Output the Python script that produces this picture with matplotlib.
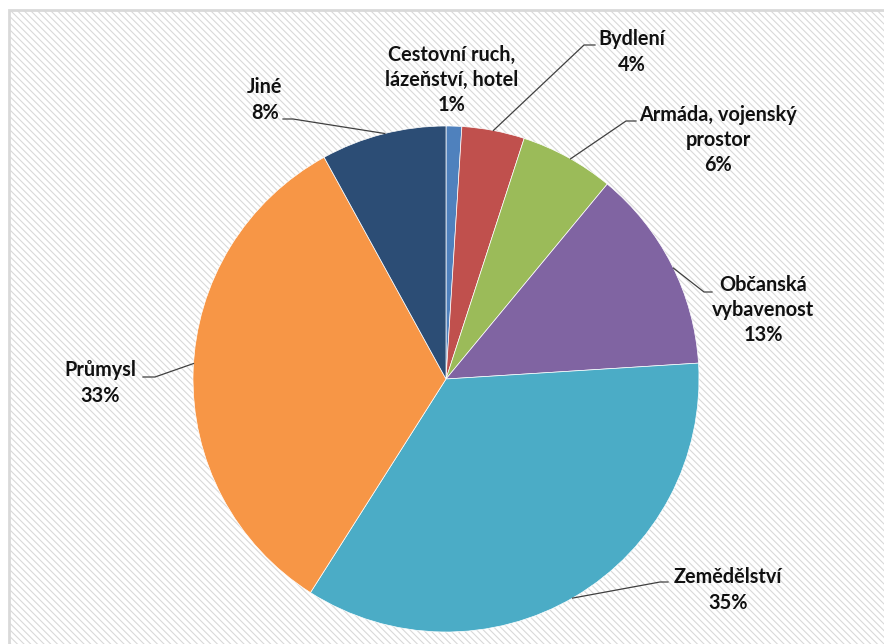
import matplotlib
matplotlib.use("Agg")
import matplotlib.pyplot as plt
import numpy as np
from matplotlib.patches import Rectangle

categories = ["Cestovní ruch,\nlázeňství, hotel", "Bydlení", "Armáda, vojenský\nprostor",
              "Občanská\nvybavenost", "Zemědělství", "Průmysl", "Jiné"]
values = [1, 4, 6, 13, 35, 33, 8]
colors = ["#4F81BD", "#C0504D", "#9BBB59", "#8064A2", "#4BACC6", "#F79646", "#2C4D75"]

# layout (pixel coordinates, y measured from top)
W, H = 884, 644
cx, cy, R = 446, 379, 253
label_pos = [(452, 80), (632, 52), (718, 140), (763, 310), (728, 590), (100, 383), (265, 100)]
# leader: (text-side x, y, elbow x), anchor angle on pie edge (deg)
leaders = [None,
           ((595, 45, 584), 79.2),
           ((636, 121, 626), 60.5),
           ((712, 292, 704), 26.0),
           ((668, 582, 660), -60.0),
           ((143, 377, 155), 176.5),
           ((283, 119, 293), 104.0)]

plt.rcParams['font.family'] = ['Lato', 'DejaVu Sans']
plt.rcParams['hatch.color'] = '#F2F2F2'
plt.rcParams['hatch.linewidth'] = 0.8

fig = plt.figure(figsize=(W / 100, H / 100), dpi=100)
ax = fig.add_axes([0, 0, 1, 1])
ax.set_xlim(0, W)
ax.set_ylim(0, H)
ax.set_aspect('equal')
ax.axis('off')

# background with faint diagonal texture and border
ax.add_patch(Rectangle((0, 0), W, H, facecolor='white', edgecolor='none', zorder=0))
ax.add_patch(Rectangle((9, -5), W, H - 10 + 5, facecolor='white', hatch='\\\\\\\\\\',
                       edgecolor='#D9D9D9', linewidth=2, zorder=0.5))

ax.pie(values, colors=colors, startangle=90, counterclock=False,
       center=(cx, H - cy), radius=R, frame=True,
       wedgeprops=dict(edgecolor='white', linewidth=0.5))
ax.set_xlim(0, W)
ax.set_ylim(0, H)
ax.axis('off')

total = sum(values)
for i, (cat, v) in enumerate(zip(categories, values)):
    pct = round(v / total * 100)
    x, y = label_pos[i]
    ax.text(x, H - y, f"{cat}\n{pct}%", ha='center', va='center', fontsize=14.3,
            fontweight='bold', color='#111111', linespacing=1.33, zorder=5)
    if leaders[i] is not None:
        (tx, ty, ex), ang = leaders[i]
        a = np.deg2rad(ang)
        px = cx + R * np.cos(a)
        py = cy - R * np.sin(a)
        ax.plot([tx, ex, px], [H - ty, H - ty, H - py], color='#404040', lw=0.9, zorder=4)

fig.savefig("out.png", dpi=100)
